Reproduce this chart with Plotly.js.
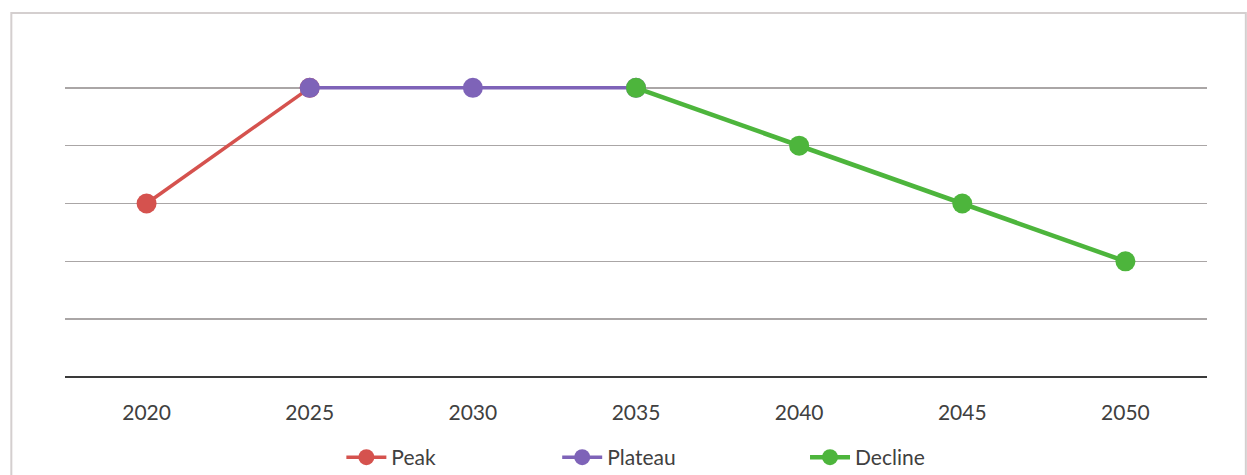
<!DOCTYPE html>
<html>
<head>
<meta charset="utf-8">
<script src="https://cdn.plot.ly/plotly-3.0.1.min.js"></script>
<style>html,body{margin:0;padding:0;background:#fff;}#chart{width:1247px;height:475px;}</style>
</head>
<body>
<div id="chart"></div>
<script>
const categories = ['2020','2025','2030','2035','2040','2045','2050'];
const peakYears = ['2020','2025'];
const peakValues = [3,5];
const plateauYears = ['2025','2030','2035'];
const plateauValues = [5,5,5];
const declineYears = ['2035','2040','2045','2050'];
const declineValues = [5,4,3,2];

const font = 'Lato, "Open Sans", sans-serif';
const traces = [
  {x: peakYears, y: peakValues, name: 'Peak', type: 'scatter', mode: 'lines+markers',
   line: {color: '#d5524e', width: 3.5}, marker: {color: '#d5524e', size: 20}, legend: 'legend'},
  {x: plateauYears, y: plateauValues, name: 'Plateau', type: 'scatter', mode: 'lines+markers',
   line: {color: '#7e63b8', width: 3.5}, marker: {color: '#7e63b8', size: 20}, legend: 'legend2'},
  {x: declineYears, y: declineValues, name: 'Decline', type: 'scatter', mode: 'lines+markers',
   line: {color: '#4db53c', width: 4.5}, marker: {color: '#4db53c', size: 20}, legend: 'legend3'}
];
const legBase = {orientation: 'h', xanchor: 'left', yanchor: 'middle', y: -0.232,
  font: {family: font, size: 21, color: '#404040'}, itemwidth: 40, bgcolor: 'rgba(0,0,0,0)'};
const layout = {
  width: 1247, height: 475,
  margin: {l: 65, r: 40, t: 30, b: 98, autoexpand: false},
  paper_bgcolor: '#ffffff', plot_bgcolor: '#ffffff',
  showlegend: true,
  xaxis: {type: 'category', categoryarray: categories, categoryorder: 'array',
    range: [-0.5, 6.5], showgrid: false, zeroline: false, showline: false,
    ticks: 'outside', ticklen: 17, tickcolor: 'rgba(0,0,0,0)',
    tickfont: {family: font, size: 21, color: '#404040'}, fixedrange: true, automargin: false},
  yaxis: {range: [0, 6], dtick: 1, showticklabels: false, ticks: '',
    showgrid: true, gridcolor: '#aaa6a6', gridwidth: 1.5,
    zeroline: true, zerolinecolor: '#3a3a3a', zerolinewidth: 2.5, showline: false, fixedrange: true, automargin: false},
  legend: Object.assign({}, legBase, {x: 0.242}),
  legend2: Object.assign({}, legBase, {x: 0.431}),
  legend3: Object.assign({}, legBase, {x: 0.648}),
  shapes: [
    {type: 'rect', xref: 'paper', yref: 'paper', x0: -0.047, x1: 1.034, y0: -0.4, y1: 1.049,
     line: {color: '#d4cfcf', width: 2}, fillcolor: 'rgba(0,0,0,0)', layer: 'below'}
  ]
};
Plotly.newPlot('chart', traces, layout, {displayModeBar: false, staticPlot: true});
</script>
</body>
</html>
